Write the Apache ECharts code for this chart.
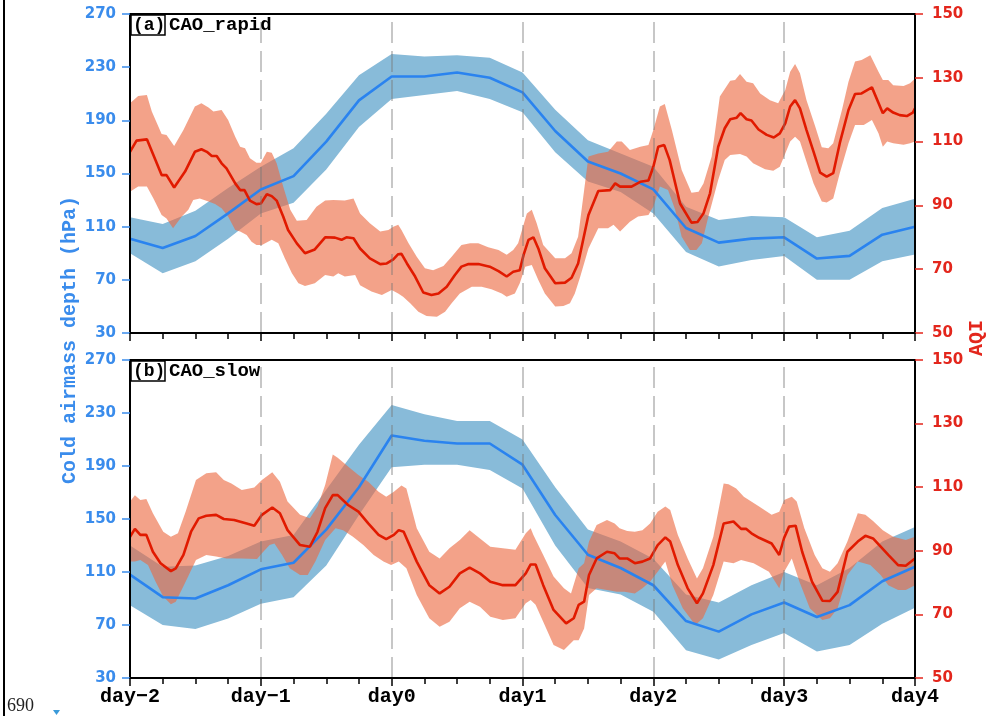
<!DOCTYPE html>
<html><head><meta charset="utf-8">
<script src="https://cdn.jsdelivr.net/npm/echarts@6/dist/echarts.min.js"></script>
<style>html,body{margin:0;padding:0;background:#fff}#c{width:987px;height:716px}</style>
</head><body><div id="c"></div>
<script>
// x axis in hours from day-2 (0 .. 144)
const dayLabels = ['day\u22122','day\u22121','day0','day1','day2','day3','day4'];
const depthHours = [0,6,12,18,24,30,36,42,48,54,60,66,72,78,84,90,96,102,108,114,120,126,132,138,144];

// Panel (a) CAO_rapid : cold airmass depth (hPa)
const depthA    = [101,94,103,120,138,148,174,205,223,223,226,222,211,182,159,150,138,109,98,101,102,86,88,104,110];
const depthA_up = [117,112,122,139,155,169,195,224,240,238,239,237,226,198,175,165,155,125,115,118,117,102,107,124,131];
const depthA_lo = [90,75,84,101,120,128,153,185,206,209,212,206,196,166,144,136,120,91,80,85,88,70,70,84,89];

// Panel (b) CAO_slow : cold airmass depth (hPa)
const depthB    = [108,91,90,100,112,117,142,174,213,209,207,207,191,153,123,113,100,73,65,78,87,76,85,103,114];
const depthB_up = [130,114,115,122,133,138,172,206,236,229,224,224,210,174,142,133,120,93,87,100,110,100,113,133,144];
const depthB_lo = [85,70,67,75,86,91,115,153,189,191,191,187,173,130,98,93,80,51,44,55,64,50,55,71,83];

// Panel (a) AQI  [hour, value]
const aqiA_mean = [[0,106.8],[1.2,110.3],[3.1,110.7],[5.8,99.5],[6.7,99.5],[8.1,95.6],[10.1,100.6],[11.9,106.8],[13.1,107.6],[14.1,106.8],[15,105.5],[15.9,105.5],[16.8,103.2],[17.7,101.6],[19.3,96.9],[20.2,94.8],[21,94.8],[22,91.5],[23.2,90.4],[24,90.6],[25.1,93.5],[26,92.9],[26.9,91.5],[28.1,86.5],[29,82.3],[30.6,78.1],[32.1,75],[33.9,76.2],[35.8,80],[37.6,79.9],[38.8,79.2],[39.7,80],[41,79.7],[42.2,76.5],[44,73.4],[45.9,71.6],[47.1,71.8],[48.3,73.1],[49.2,74.7],[49.8,74.8],[50.8,71.8],[52.3,67.7],[53.8,62.7],[55.3,61.9],[56.6,62.4],[58.1,64.5],[59.6,68.2],[60.8,70.8],[62.1,71.6],[63.9,71.6],[66,70.8],[67.6,69.4],[69.1,67.7],[70.3,69.2],[71.5,69.7],[72.2,74.5],[73.1,79.2],[74,80],[74.9,76.5],[76.1,70.3],[78,65.6],[79.8,65.8],[81,67.3],[82.2,71.8],[84.1,87],[85.9,94.5],[88.1,94.8],[89,96.9],[89.9,95.9],[92,95.9],[93.6,97.4],[95.1,97.8],[96,102.1],[96.9,108.4],[98,108.9],[99,104.2],[100.9,90.6],[103,84.6],[104.1,84.8],[105.2,87.5],[106.4,93.8],[107.9,108.4],[109.1,114.2],[110.1,117],[111.3,117.5],[112,118.9],[113.1,117],[114,116.6],[115.3,113.8],[116.8,112.1],[118.1,111.3],[119.2,112.6],[120.2,115.7],[121.1,121],[122,123],[122.9,120.4],[124.1,113.6],[125.4,106.8],[126.6,100.3],[127.8,99],[129,100.1],[130.2,109.5],[131.8,119.9],[133,124.9],[134.2,125.1],[136.1,127],[138.1,118.9],[138.9,120.4],[140,119.1],[141.2,118.3],[142.5,118],[143.6,119.1],[144,120.4]];
const aqiA_up = [[0,122],[1.5,124.3],[3.1,124.6],[4,119.4],[5.8,112.4],[6.7,112.1],[8.1,108.6],[9.8,113.6],[11.9,121],[13.1,122],[14.4,120.7],[15.3,119.4],[16.8,119.9],[18,116.8],[19.3,111.5],[20.2,108.4],[21.1,107.9],[22,104.8],[23.2,103.4],[24,103.4],[25.1,106.8],[26,106.5],[26.9,103.2],[28.1,95.9],[29.4,88.6],[30.6,85.2],[32.4,85.4],[34.2,89.6],[35.8,91.5],[37.3,91.7],[39.4,91.5],[41,92.2],[42.2,87.5],[44,84.4],[45.9,81.8],[47.4,82.3],[48.3,83.3],[49.2,83.9],[49.8,82.3],[51.1,78.1],[52.6,73.9],[54.1,70.3],[55.6,69.7],[57.5,71],[59,73.9],[60.8,77.6],[62.4,78.1],[63.9,78.1],[65.7,76.9],[67.6,76],[69.1,74.5],[70.3,76],[71.2,78.1],[72.8,87.5],[73.7,88.6],[74.6,84.4],[75.8,77.6],[78,73.4],[79.8,73.4],[81,75],[82.2,80.2],[84.1,105.3],[85.9,106.3],[87.7,106.8],[89.3,110],[90.2,110],[91.7,107.4],[93.6,108.4],[95.1,108.9],[96,113.6],[97.2,121],[98.1,121.8],[99.4,113.6],[101.2,101.1],[103,94],[104.3,94.3],[105.2,96.9],[106.7,105.3],[108.2,124.1],[110.1,129.1],[111,129.3],[111.9,131.2],[113.1,128.8],[114.3,128.3],[115.6,125.1],[117.4,123],[118.9,122],[120.2,126.2],[121.1,131.9],[122,134.3],[122.9,131.4],[124.1,123],[125.7,114.7],[126.9,108.2],[128.1,107.9],[129,109.5],[130.6,119.9],[131.8,128.8],[133,135.1],[134.2,135.6],[135.8,137.1],[137.3,131.9],[138.1,129.3],[139.1,129.3],[140,127.7],[141.9,127.4],[143.1,128.3],[144,129.8]];
const aqiA_lo = [[0,94.3],[1.5,95.9],[3.1,95.9],[4.3,92.2],[5.8,87],[6.7,85.9],[7.9,82.8],[9.5,86.5],[10.7,88.6],[11.6,91.7],[12.8,92.2],[14.4,91.2],[15.6,90.4],[16.8,89.1],[18,86.5],[19.3,82.3],[20.2,81.8],[21.4,80.7],[22.3,78.6],[23.2,77.6],[24.2,77.6],[26,79.2],[27.2,78.1],[28.4,73.4],[29.7,68.7],[30.9,65.6],[32.1,64.7],[33.9,65.6],[35.8,68.2],[37.3,67.7],[38.2,68.7],[39.4,67.7],[41.3,68.2],[42.2,65],[44.3,63],[46.2,61.9],[48,63.5],[49.2,62.4],[50.1,61.4],[51.4,59.3],[52.9,56.7],[54.4,55.3],[56.3,55.1],[57.8,56.7],[59,59.3],[60.5,62.4],[62.7,64.5],[64.5,64.5],[66.3,63.7],[68.2,62.4],[69.1,61.4],[70.6,62.4],[71.5,65.6],[72.5,70.8],[73.7,71.3],[74.9,66.6],[76.1,62.4],[78,58.3],[79.5,58.5],[80.7,59.3],[81.6,62.4],[82.6,67.7],[84.1,76.5],[85.9,82.8],[87.7,82.8],[88.7,83.9],[89.9,81.8],[91.7,84.9],[93.2,86.5],[95.1,87],[96,89.6],[97.2,95.9],[98.7,94.8],[100,88.6],[101.2,80.2],[102.7,76],[103.9,76],[104.9,78.1],[106.1,86.5],[107.9,98],[109.1,104.2],[110.1,105.8],[111.9,106.1],[113.1,105.3],[114.3,103.2],[116.5,101.3],[118,100.9],[119.2,102.1],[120.2,106.3],[121.1,110],[122,111.5],[122.9,110],[124.1,103.7],[125.4,96.9],[126.9,91.2],[127.8,90.9],[129,92.2],[130.2,100.1],[131.8,109.5],[133,115.2],[134.6,115.2],[136.1,116.8],[137.3,112.6],[138.1,108.4],[138.9,110],[140,109.5],[141.9,109],[143.1,109.5],[144,110]];

// Panel (b) AQI  [hour, value]
const aqiB_mean = [[0,94.4],[0.9,96.9],[1.9,95],[3,95],[4.2,89.7],[5.6,86.1],[7.5,83.6],[8.4,84.5],[9.8,88.7],[11.2,96],[12.6,100.2],[14,101],[15.8,101.3],[17.2,100],[19.1,99.7],[21.4,98.6],[22.8,97.9],[24.2,101.3],[26.1,103.6],[27.5,101.8],[28.9,96.5],[31.2,91.8],[33,91.3],[34.4,96],[35.8,103.4],[37.2,107.5],[38.1,107.5],[40,104.4],[41.9,102.3],[43.7,98.6],[45.6,95],[47,93.7],[48.4,95],[49.3,96.5],[50.2,96],[52.6,86.6],[54.9,79.2],[56.8,76.6],[58.6,78.7],[60.5,82.9],[62.3,84.7],[64.2,82.9],[66.1,80.3],[68.4,79.2],[70.7,79.2],[72.6,82.9],[73.5,85.7],[74.4,85.7],[75.8,79.2],[77.7,71.4],[80,67.2],[81.4,68.8],[82.3,73],[83.3,74],[84.2,82.4],[85.6,87.6],[87.5,89.7],[88.9,89.2],[89.8,87.6],[91.2,87.6],[92.6,86.1],[94,86.6],[95.4,87.6],[96.8,91.8],[98.2,94.2],[99.1,92.9],[100.5,85.5],[102.3,78.2],[104,73.5],[105.1,76.6],[107,85.5],[108.9,98.6],[110.7,99.2],[112.1,96.9],[113,96.9],[114,95.5],[115.4,94.1],[117.7,92.3],[119.1,88.7],[120,94.1],[120.9,97.6],[122.1,97.9],[123.3,89.7],[125.1,80.3],[127,74.3],[128.4,74.2],[129.8,77.1],[131.6,89.7],[133.5,92.9],[134.9,94.7],[136.3,93.9],[137.7,91.3],[139.1,88.7],[140.9,85.5],[142.3,85.3],[144,87.6]];
const aqiB_up = [[0,105.5],[0.9,107.5],[1.9,106],[3,106.3],[4.2,101.8],[6.1,96],[7.5,94.4],[8.8,95.5],[10.2,102.3],[12.1,112.3],[14,114.4],[15.8,114.7],[17.2,112.3],[18.6,111.2],[20.5,109.1],[22.8,109.9],[24.2,112.3],[26.1,114.7],[27.5,111.7],[28.9,105.5],[31.2,101.3],[33,100.2],[34.4,103.9],[35.8,110.7],[37.2,120.3],[38.1,119.3],[40,116.5],[41.9,113.8],[43.7,111.7],[45.6,108.6],[47,107],[48.4,108.6],[49.8,110.5],[50.7,109.6],[52.6,97.1],[54.9,89.7],[56.8,87.6],[58.6,90.8],[60.5,93.4],[62.3,96.5],[64.2,93.9],[66.1,91.3],[68.4,90.8],[70.7,90.3],[72.6,95.5],[73.5,97.1],[74,95],[75.8,88.7],[77.7,81.9],[79.6,78.2],[80.9,76.6],[82.3,84.5],[83.3,86.1],[84.2,92.9],[85.6,98.1],[87.5,99.7],[88.9,98.6],[89.8,97.1],[91.2,96.2],[92.6,96],[94,96.5],[95.4,98.6],[96.8,102.3],[98.2,103.9],[99.1,102.8],[100.5,95],[102.3,87.6],[104,81.3],[105.1,84.5],[107,94.4],[108.9,111.2],[109.8,110.9],[111.2,109.6],[112.6,107],[115.4,103.9],[117.7,101.3],[119.1,102.3],[120,106],[121.4,107],[122.3,105.5],[123.7,97.1],[125.6,88.7],[127,84.5],[128.4,83.4],[129.8,86.1],[131.6,92.9],[133.5,101.8],[134.9,101.3],[136.3,99.4],[138.1,96.5],[140,94.4],[142.3,93.4],[144,94.4]];
const aqiB_lo = [[0,86.6],[0.9,86.6],[1.9,87.1],[3.3,85.5],[4.7,80.3],[6.1,75.6],[7.5,73.2],[8.4,74],[10.2,80.3],[12.1,87.1],[14,88.7],[15.8,88.2],[17.7,87.6],[20.5,87.6],[23.3,87.4],[24.2,89.2],[25.6,91.8],[26.5,92.3],[27.9,88.7],[29.3,84.5],[31.2,82.4],[32.6,82.4],[34,86.6],[35.8,93.4],[37.7,97.1],[39.1,96.5],[40.9,94.4],[42.8,91.8],[44.7,88.7],[46.5,86.6],[47.9,85.5],[49.3,86.6],[50.7,84.5],[52.6,76.1],[54.9,68.8],[56.8,66.1],[58.6,67.7],[60.5,71.9],[62.3,74],[64.2,72.4],[66.1,69.3],[68.4,68.2],[70.7,68.8],[72.6,73.5],[73.5,74.5],[74.4,73],[75.8,67.7],[77.7,60.4],[79.6,58.8],[81.4,61.9],[82.3,61.9],[83.3,65.6],[84.2,76.1],[85.6,78.2],[87.5,77.7],[89.3,77.1],[90.7,77.1],[92.6,76.6],[94,78.2],[95.4,80.3],[96.8,83.4],[98.2,86.6],[99.5,79.2],[101.4,71.9],[103.7,66.7],[105.1,68.8],[107,76.1],[108.9,86.6],[110.7,86.1],[112.1,87.1],[114.4,86.1],[117.2,83.4],[119.1,78.2],[120,83.4],[121.4,87.6],[122.8,80.3],[124.7,71.9],[127,68.2],[128.4,68.8],[129.8,71.9],[131.6,82.4],[133.5,86.6],[135.8,85.5],[137.7,82.4],[139.1,79.2],[140.9,77.7],[142.3,77.7],[144,79.2]];

const dayMarks = [24,48,72,96,120];

const BLUE_AX = '#3a8cec', RED_AX = '#e3261c';
const BLUE_LINE = '#2a83ef', BLUE_BAND = '#88bbd9';
const RED_LINE = '#e11a00', RED_BAND = 'rgba(235,105,65,0.62)';

function pairs(xs, ys){ return xs.map((x,i)=>[x, ys[i]]); }
function polyPts(up, lo){ return up.concat(lo.slice().reverse()); }
function bandSeries(pts, xi, yi, color){
  return {type:'custom', xAxisIndex:xi, yAxisIndex:yi, silent:true, animation:false, clip:true,
    data: pts,
    renderItem: function(params, api){
      if (params.dataIndex !== 0) return null;
      return {type:'polygon', shape:{points: pts.map(p => api.coord(p))}, style:{fill: color}};
    }};
}
function lineSeries(data, xi, yi, color, withMarks){
  const s = {type:'line', xAxisIndex:xi, yAxisIndex:yi, data:data, symbol:'none', showSymbol:false,
    silent:true, animation:false, lineStyle:{color:color, width:2.6}};
  if (withMarks) s.markLine = {silent:true, symbol:['none','none'], label:{show:false}, animation:false,
    lineStyle:{color:'rgba(120,120,120,0.55)', width:1.5, type:[21,8]},
    data: dayMarks.map(h => ({xAxis:h}))};
  return s;
}
function xAxisBottom(gi, showLabels){
  return {gridIndex:gi, type:'value', min:0, max:144, interval:24, position:'bottom', z:10,
    axisLine:{show:true, onZero:false, lineStyle:{color:'#000', width:2}},
    axisTick:{show:true, length:8, lineStyle:{color:'#000', width:1.5}},
    minorTick:{show:true, splitNumber:4, length:6, lineStyle:{color:'#000', width:1.5}},
    splitLine:{show:false}, minorSplitLine:{show:false},
    axisLabel:{show:showLabels, margin:9, color:'#000', fontFamily:'Liberation Mono', fontWeight:'bold', fontSize:20,
      formatter: v => dayLabels[Math.round(v/24)]}};
}
function xAxisTop(gi){
  return {gridIndex:gi, type:'value', min:0, max:144, position:'top', z:10,
    axisLine:{show:true, onZero:false, lineStyle:{color:'#000', width:2}},
    axisTick:{show:false}, axisLabel:{show:false}, splitLine:{show:false}};
}
function yAxisDef(gi, pos, min, max, interval, color){
  return {gridIndex:gi, type:'value', position:pos, min:min, max:max, interval:interval, z:10,
    axisLine:{show:true, onZero:false, lineStyle:{color:'#000', width:2}},
    axisTick:{show:true, length:8, lineStyle:{color:color, width:1.5}},
    splitLine:{show:false},
    axisLabel:{color:color, fontFamily:'DejaVu Sans', fontWeight:'bold', fontSize:15, margin:pos==='left'?14:17}};
}

const chart = echarts.init(document.getElementById('c'), null, {renderer:'canvas'});
const monoB = '"Liberation Mono", monospace';
chart.setOption({
  backgroundColor:'#fff',
  animation:false,
  grid:[{left:130, top:14, width:785, height:319}, {left:130, top:360, width:785, height:318}],
  xAxis:[xAxisBottom(0,false), xAxisBottom(1,true), xAxisTop(0), xAxisTop(1)],
  yAxis:[yAxisDef(0,'left',30,270,40,BLUE_AX), yAxisDef(0,'right',50,150,20,RED_AX),
         yAxisDef(1,'left',30,270,40,BLUE_AX), yAxisDef(1,'right',50,150,20,RED_AX)],
  series:[
    bandSeries(polyPts(pairs(depthHours, depthA_up), pairs(depthHours, depthA_lo)), 0, 0, BLUE_BAND),
    lineSeries(pairs(depthHours, depthA), 0, 0, BLUE_LINE, false),
    bandSeries(polyPts(aqiA_up, aqiA_lo), 0, 1, RED_BAND),
    lineSeries(aqiA_mean, 0, 1, RED_LINE, true),
    bandSeries(polyPts(pairs(depthHours, depthB_up), pairs(depthHours, depthB_lo)), 1, 2, BLUE_BAND),
    lineSeries(pairs(depthHours, depthB), 1, 2, BLUE_LINE, false),
    bandSeries(polyPts(aqiB_up, aqiB_lo), 1, 3, RED_BAND),
    lineSeries(aqiB_mean, 1, 3, RED_LINE, true)
  ],
  graphic:[
    {type:'rect', shape:{x:3, y:0, width:2, height:716}, style:{fill:'#000'}, silent:true},
    {type:'text', x:7, y:697, style:{text:'690', font:'18px "Liberation Serif", serif', fill:'#222', textVerticalAlign:'top'}, silent:true},
    {type:'polygon', shape:{points:[[53,710],[60,710],[56.5,715]]}, style:{fill:'#3a9ad9'}, silent:true},
    {type:'rect', shape:{x:131, y:15, width:34, height:20}, style:{fill:'#fff', stroke:'#000', lineWidth:1.5}, z:20, silent:true},
    {type:'text', x:133, y:25.5, z:21, style:{text:'(a)', font:'bold 18px '+monoB, fill:'#000', textVerticalAlign:'middle'}, silent:true},
    {type:'text', x:169, y:25.5, z:21, style:{text:'CAO_rapid', font:'bold 19px '+monoB, fill:'#000', textVerticalAlign:'middle'}, silent:true},
    {type:'rect', shape:{x:131, y:361, width:34, height:20}, style:{fill:'#fff', stroke:'#000', lineWidth:1.5}, z:20, silent:true},
    {type:'text', x:133, y:371.5, z:21, style:{text:'(b)', font:'bold 18px '+monoB, fill:'#000', textVerticalAlign:'middle'}, silent:true},
    {type:'text', x:169, y:371.5, z:21, style:{text:'CAO_slow', font:'bold 19px '+monoB, fill:'#000', textVerticalAlign:'middle'}, silent:true},
    {type:'text', x:70, y:340, rotation:Math.PI/2, style:{text:'Cold airmass depth (hPa)', font:'bold 20px '+monoB, fill:BLUE_AX, textAlign:'center', textVerticalAlign:'middle'}, silent:true},
    {type:'text', x:977, y:338, rotation:Math.PI/2, style:{text:'AQI', font:'bold 20px '+monoB, fill:RED_AX, textAlign:'center', textVerticalAlign:'middle'}, silent:true}
  ]
});
</script>
</body></html>
